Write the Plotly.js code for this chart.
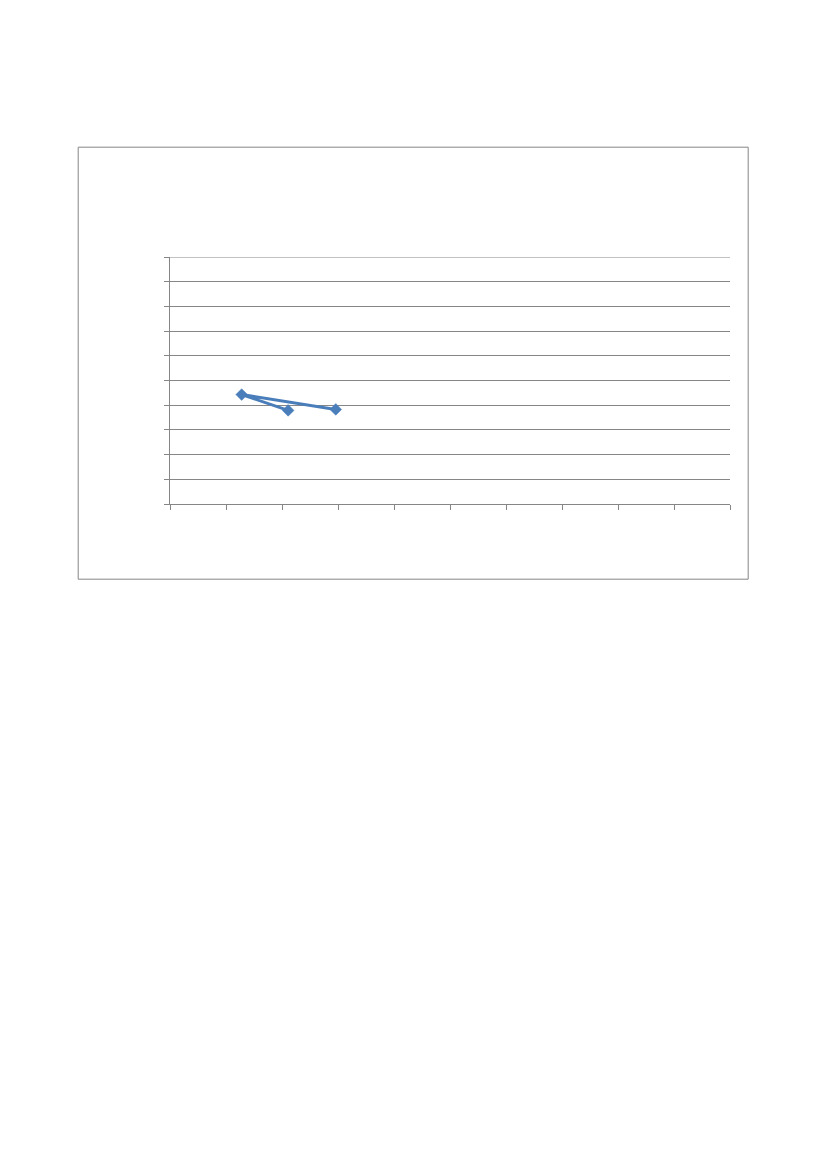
<!DOCTYPE html>
<html>
<head>
<meta charset="utf-8">
<script src="https://cdn.plot.ly/plotly-3.0.1.min.js"></script>
<style>
  html, body { margin: 0; padding: 0; background: #ffffff; }
  #chart { width: 827px; height: 1169px; }
</style>
</head>
<body>
<div id="chart"></div>
<script>
// Data (scatter with straight lines, data order preserved)
var xValues = [2.96, 1.28, 2.11];
var yValues = [3.83, 4.43, 3.79];
var seriesName = "Series1";

var W = 827, H = 1169;
var plotL = 170.3, plotR = 730.3, plotT = 257.3, plotB = 504.3;
var pw = plotR - plotL, ph = plotB - plotT;
function px(x) { return (x - plotL) / pw; }
function py(y) { return (plotB - y) / ph; }

var trace = {
  x: xValues,
  y: yValues,
  name: seriesName,
  type: 'scatter',
  mode: 'lines+markers',
  line: { color: '#4A7EBB', width: 3 },
  marker: { symbol: 'diamond', size: 9, color: '#4A7EBB', line: { color: '#4A7EBB', width: 0.5 } },
  showlegend: false,
  hoverinfo: 'x+y'
};

var layout = {
  width: W,
  height: H,
  margin: { l: plotL, r: W - plotR, t: plotT, b: H - plotB, pad: 0 },
  paper_bgcolor: '#ffffff',
  plot_bgcolor: '#ffffff',
  showlegend: false,
  xaxis: {
    range: [0, 10],
    dtick: 1,
    tick0: 0,
    showgrid: false,
    zeroline: false,
    showline: true,
    linecolor: '#868686',
    linewidth: 1,
    ticks: 'outside',
    ticklen: 5,
    tickcolor: '#868686',
    tickwidth: 1,
    showticklabels: false,
    fixedrange: true
  },
  yaxis: {
    range: [0, 10],
    dtick: 1,
    tick0: 0,
    showgrid: true,
    gridcolor: '#868686',
    gridwidth: 1,
    zeroline: false,
    showline: true,
    linecolor: '#868686',
    linewidth: 1,
    ticks: 'outside',
    ticklen: 5,
    tickcolor: '#868686',
    tickwidth: 1,
    showticklabels: false,
    fixedrange: true
  },
  shapes: [
    {
      type: 'rect', xref: 'paper', yref: 'paper', layer: 'below',
      x0: px(78.5), x1: px(748.5), y0: py(147.5), y1: py(579.5),
      line: { color: '#868686', width: 1 }, fillcolor: 'rgba(0,0,0,0)'
    },
    {
      type: 'line', xref: 'paper', yref: 'y', layer: 'below',
      x0: 0, x1: 1, y0: 10, y1: 10,
      line: { color: '#868686', width: 1 }
    }
  ]
};

Plotly.newPlot('chart', [trace], layout, { staticPlot: true, displayModeBar: false });
</script>
</body>
</html>
